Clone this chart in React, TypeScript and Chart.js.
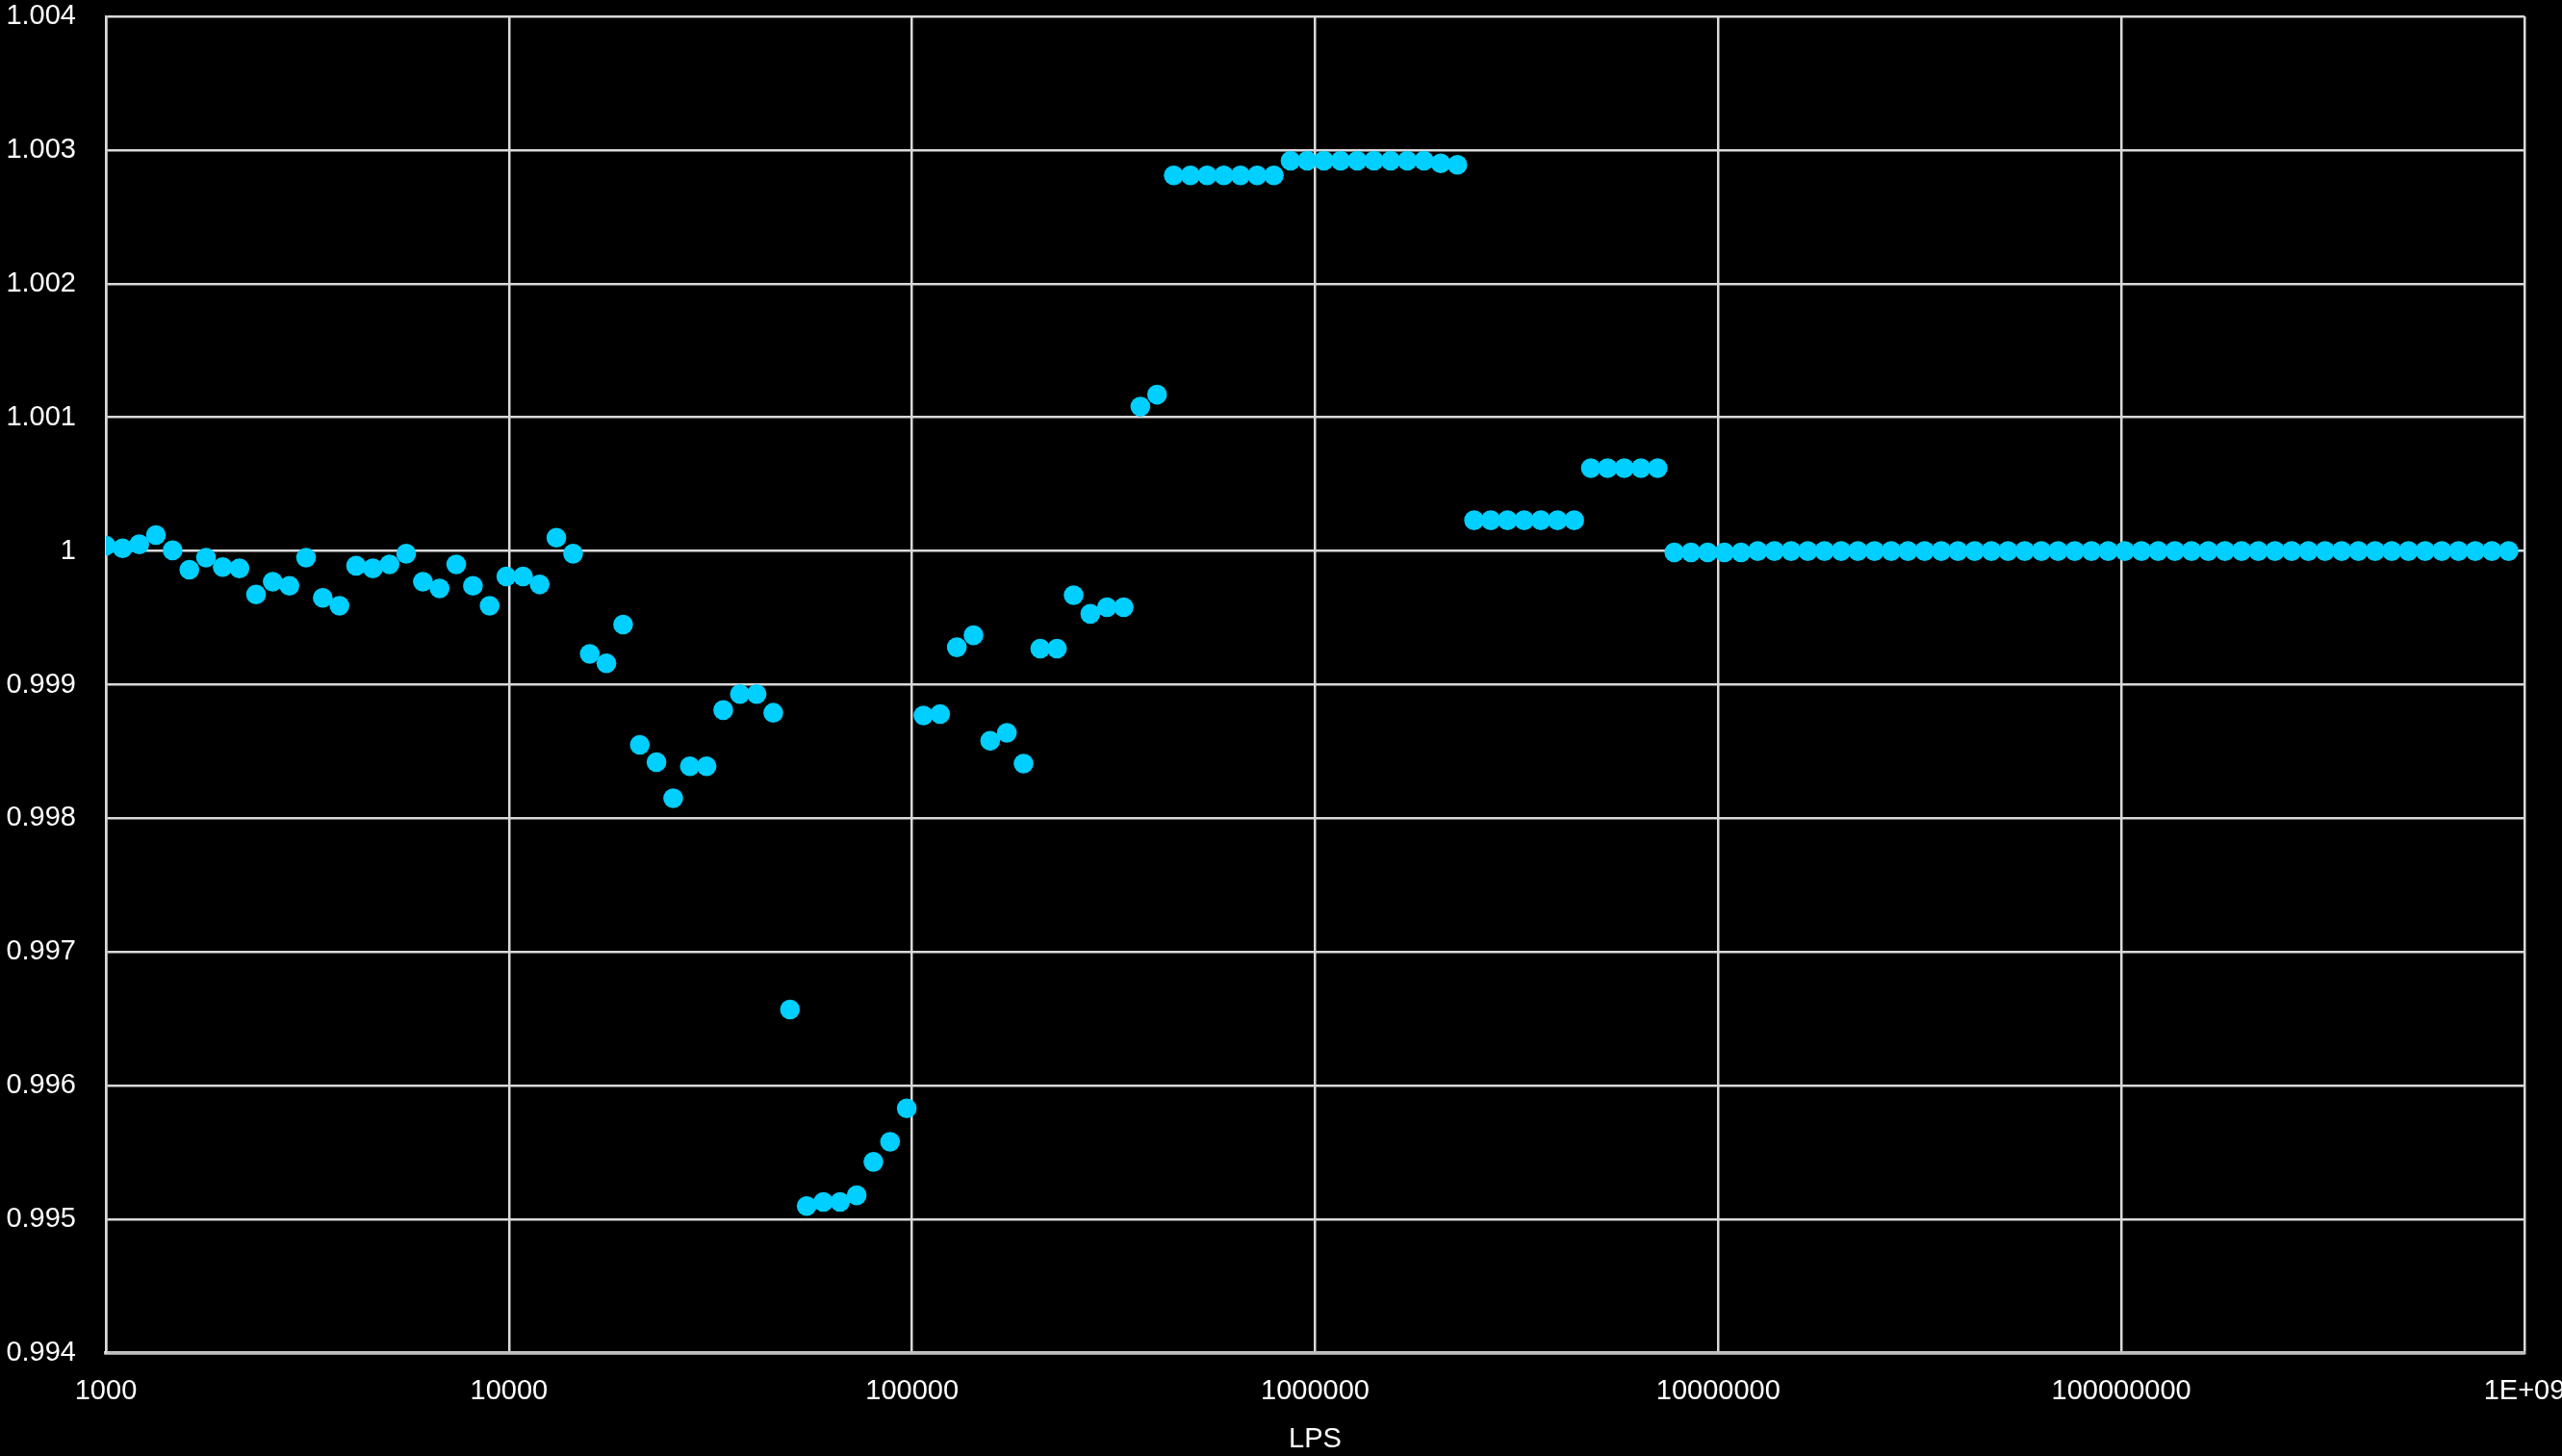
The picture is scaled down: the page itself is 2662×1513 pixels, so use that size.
import { useEffect, useRef } from "react";
import { Chart, registerables } from "chart.js";

Chart.register(...registerables);

const lpsValues = [
  1000, 1100, 1210, 1331, 1464, 1611, 1772, 1949, 2144, 2358,
  2594, 2853, 3138, 3452, 3797, 4177, 4595, 5054, 5560, 6116,
  6727, 7400, 8140, 8954, 9850, 10835, 11918, 13110, 14421, 15863,
  17449, 19194, 21114, 23225, 25548, 28102, 30913, 34004, 37404, 41145,
  45259, 49785, 54764, 60240, 66264, 72890, 80180, 88197, 97017, 106719,
  117391, 129130, 142043, 156247, 171872, 189059, 207965, 228762, 251638, 276801,
  304482, 334930, 368423, 405265, 445792, 490371, 539408, 593349, 652683, 717952,
  789747, 868722, 955594, 1051153, 1156269, 1271895, 1399085, 1538993, 1692893, 1862182,
  2048400, 2253240, 2478564, 2726421, 2999063, 3298969, 3628866, 3991753, 4390928, 4830021,
  5313023, 5844325, 6428758, 7071633, 7778797, 8556676, 9412344, 10353578, 11388936, 12527830,
  13780613, 15158674, 16674541, 18341995, 20176195, 22193814, 24413196, 26854515, 29539967, 32493964,
  35743360, 39317696, 43249466, 47574412, 52331853, 57565039, 63321543, 69653697, 76619066, 84280973,
  92709070, 101979977, 112177975, 123395772, 135735350, 149308885, 164239773, 180663750, 198730125, 218603138,
  240463451, 264509797, 290960777, 320056854, 352062540, 387268794, 425995673, 468595240, 515454764, 567000241,
  623700265, 686070291, 754677320, 830145052, 913159557,
];

const ratioValues = [
  1.00004, 1.00002, 1.00005, 1.00012, 1.000005, 0.99986, 0.99995, 0.99988, 0.99987, 0.999675,
  0.99977, 0.99974, 0.99995, 0.99965, 0.99959, 0.99989, 0.99987, 0.9999, 0.99998, 0.99977,
  0.99972, 0.9999, 0.99974, 0.99959, 0.99981, 0.99981, 0.99975, 1.0001, 0.99998, 0.99923,
  0.99916, 0.99945, 0.99855, 0.99842, 0.99815, 0.99839, 0.99839, 0.99881, 0.99893, 0.99893,
  0.99879, 0.99657, 0.9951, 0.99513, 0.99513, 0.99518, 0.99543, 0.99558, 0.99583, 0.99877,
  0.99878, 0.99928, 0.99937, 0.99858, 0.99864, 0.99841, 0.99927, 0.99927, 0.99967, 0.99953,
  0.99958, 0.99958, 1.00108, 1.00117, 1.00281, 1.00281, 1.00281, 1.00281, 1.00281, 1.00281,
  1.00281, 1.00292, 1.00292, 1.00292, 1.00292, 1.00292, 1.00292, 1.00292, 1.00292, 1.00292,
  1.0029, 1.00289, 1.00023, 1.00023, 1.00023, 1.00023, 1.00023, 1.00023, 1.00023, 1.00062,
  1.00062, 1.00062, 1.00062, 1.00062, 0.99999, 0.99999, 0.99999, 0.99999, 0.99999, 1,
  1, 1, 1, 1, 1, 1, 1, 1, 1, 1,
  1, 1, 1, 1, 1, 1, 1, 1, 1, 1,
  1, 1, 1, 1, 1, 1, 1, 1, 1, 1,
  1, 1, 1, 1, 1, 1, 1, 1, 1, 1,
  1, 1, 1, 1, 1,
];

const xTickValues = [1e3, 1e4, 1e5, 1e6, 1e7, 1e8, 1e9];
const xTickLabels = ["1000", "10000", "100000", "1000000", "10000000", "100000000", "1E+09"];
const yTickValues = [0.994, 0.995, 0.996, 0.997, 0.998, 0.999, 1, 1.001, 1.002, 1.003, 1.004];
const yTickLabels = ["0.994", "0.995", "0.996", "0.997", "0.998", "0.999", "1", "1.001", "1.002", "1.003", "1.004"];
const xAxisTitle = "LPS";

export default function App() {
  const ref = useRef<HTMLCanvasElement>(null);

  useEffect(() => {
    const canvas = ref.current;
    if (!canvas) return;
    const font = { family: "'Liberation Sans', Arial, sans-serif", size: 29 };
    const gridColor = "#d9d9d9";
    const bgPlugin = {
      id: "bg",
      beforeDraw(c: any) {
        const ctx = c.ctx;
        ctx.save();
        ctx.fillStyle = "#000000";
        ctx.fillRect(0, 0, c.width, c.height);
        ctx.restore();
      },
    };
    const chart = new Chart(canvas, {
      type: "scatter",
      data: {
        datasets: [
          {
            label: "ratio",
            data: lpsValues.map((x, i) => ({ x, y: ratioValues[i] })),
            backgroundColor: "#00CFFF",
            borderWidth: 0,
            pointRadius: 10.3,
            pointHoverRadius: 10.3,
          },
        ],
      },
      options: {
        animation: false,
        responsive: false,
        maintainAspectRatio: false,
        layout: { padding: { top: 17, right: 39, left: 0, bottom: 0 } },
        plugins: { legend: { display: false }, tooltip: { enabled: false } },
        scales: {
          x: {
            type: "logarithmic",
            min: 1000,
            max: 1e9,
            afterBuildTicks: (scale: any) => {
              scale.ticks = xTickValues.map((v) => ({ value: v }));
            },
            afterFit: (scale: any) => {
              scale.height = 107;
              scale.paddingLeft = 0;
              scale.paddingRight = 0;
            },
            ticks: {
              autoSkip: false,
              maxRotation: 0,
              minRotation: 0,
              color: "#ffffff",
              font,
              padding: 23,
              callback: (_v: any, i: number) => xTickLabels[i],
            },
            grid: { color: gridColor, lineWidth: 2.5, drawTicks: false },
            border: { color: "#bfbfbf", width: 3.5 },
            title: {
              display: true,
              text: xAxisTitle,
              color: "#ffffff",
              font,
              padding: { top: 0, bottom: 0 },
            },
          },
          y: {
            type: "linear",
            min: 0.994,
            max: 1.004,
            afterBuildTicks: (scale: any) => {
              scale.ticks = yTickValues.map((v) => ({ value: v }));
            },
            afterFit: (scale: any) => {
              scale.width = 110;
              scale.paddingTop = 0;
              scale.paddingBottom = 0;
            },
            ticks: {
              autoSkip: false,
              color: "#ffffff",
              font,
              padding: 31,
              callback: (_v: any, i: number) => yTickLabels[i],
            },
            grid: { color: gridColor, lineWidth: 2.5, drawTicks: false },
            border: { color: gridColor, width: 2.5 },
          },
        },
      },
      plugins: [bgPlugin],
    } as any);
    return () => chart.destroy();
  }, []);

  return (
    <div
      style={{
        position: "fixed",
        left: 0,
        top: 0,
        width: 2662,
        height: 1513,
        background: "#000",
      }}
    >
      <canvas ref={ref} width={2662} height={1513} style={{ display: "block" }} />
    </div>
  );
}
